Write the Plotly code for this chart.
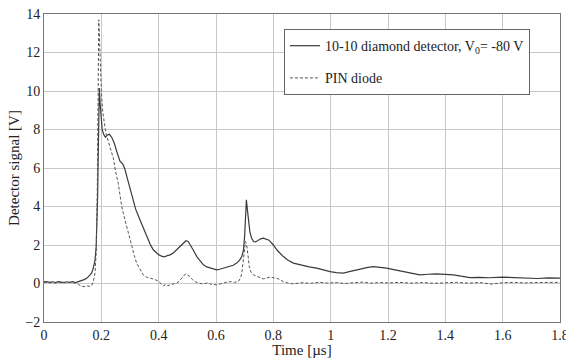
import plotly.graph_objects as go

# Diamond detector (solid)
t_diamond = [0.000, 0.010, 0.020, 0.030, 0.040, 0.050, 0.060, 0.070, 0.080, 0.090,
             0.100, 0.110, 0.120, 0.130, 0.140, 0.150, 0.160, 0.166, 0.172, 0.178,
             0.182, 0.185, 0.187, 0.189, 0.191, 0.193, 0.196, 0.199, 0.203, 0.208,
             0.214, 0.220, 0.228, 0.236, 0.245, 0.255, 0.265, 0.275, 0.282, 0.290,
             0.300, 0.310, 0.320, 0.335, 0.348, 0.358, 0.370, 0.381, 0.392, 0.400,
             0.410, 0.420, 0.430, 0.440, 0.452, 0.463, 0.475, 0.486, 0.495, 0.503,
             0.512, 0.522, 0.533, 0.545, 0.556, 0.568, 0.579, 0.590, 0.602, 0.613,
             0.625, 0.637, 0.649, 0.660, 0.672, 0.682, 0.690, 0.696, 0.700, 0.703,
             0.706, 0.709, 0.713, 0.718, 0.724, 0.731, 0.738, 0.747, 0.756, 0.765,
             0.775, 0.785, 0.800, 0.815, 0.835, 0.850, 0.870, 0.890, 0.904, 0.925,
             0.951, 0.975, 0.998, 1.020, 1.044, 1.065, 1.090, 1.110, 1.130, 1.150,
             1.170, 1.195, 1.220, 1.253, 1.280, 1.311, 1.340, 1.370, 1.400, 1.428,
             1.455, 1.486, 1.520, 1.550, 1.600, 1.640, 1.680, 1.720, 1.760, 1.800]
v_diamond = [0.08, 0.10, 0.06, 0.09, 0.05, 0.10, 0.07, 0.04, 0.09, 0.06,
             0.10, 0.05, 0.10, 0.14, 0.20, 0.28, 0.42, 0.54, 0.80, 1.23,
             1.90, 3.00, 4.50, 6.50, 9.00, 10.15, 9.30, 8.50, 8.00, 7.75,
             7.60, 7.70, 7.75, 7.60, 7.30, 6.80, 6.35, 6.20, 5.95, 5.50,
             4.90, 4.35, 3.85, 3.30, 2.80, 2.44, 2.05, 1.75, 1.60, 1.50,
             1.42, 1.38, 1.45, 1.49, 1.60, 1.75, 1.92, 2.10, 2.22, 2.18,
             1.98, 1.70, 1.40, 1.15, 0.97, 0.86, 0.80, 0.74, 0.71, 0.74,
             0.80, 0.84, 0.88, 0.95, 1.06, 1.20, 1.40, 1.75, 2.50, 3.60,
             4.35, 3.90, 3.30, 2.70, 2.36, 2.18, 2.16, 2.25, 2.32, 2.36,
             2.32, 2.25, 2.00, 1.70, 1.40, 1.22, 1.06, 0.98, 0.92, 0.86,
             0.80, 0.70, 0.62, 0.57, 0.54, 0.62, 0.71, 0.76, 0.84, 0.88,
             0.86, 0.80, 0.72, 0.62, 0.52, 0.45, 0.48, 0.50, 0.47, 0.45,
             0.38, 0.31, 0.32, 0.30, 0.33, 0.30, 0.28, 0.26, 0.29, 0.28]

# PIN diode (dashed)
t_pin = [0.000, 0.010, 0.020, 0.030, 0.040, 0.050, 0.060, 0.070, 0.080, 0.090,
         0.100, 0.110, 0.120, 0.130, 0.140, 0.150, 0.160, 0.166, 0.172, 0.178,
         0.182, 0.184, 0.186, 0.188, 0.190, 0.191, 0.193, 0.196, 0.200, 0.205,
         0.210, 0.216, 0.224, 0.232, 0.242, 0.250, 0.259, 0.265, 0.271, 0.280,
         0.288, 0.297, 0.306, 0.315, 0.323, 0.335, 0.346, 0.358, 0.370, 0.385,
         0.399, 0.408, 0.416, 0.425, 0.432, 0.440, 0.450, 0.463, 0.472, 0.480,
         0.488, 0.495, 0.502, 0.509, 0.518, 0.527, 0.540, 0.556, 0.570, 0.585,
         0.602, 0.615, 0.630, 0.649, 0.665, 0.678, 0.686, 0.690, 0.694, 0.698,
         0.703, 0.707, 0.710, 0.713, 0.716, 0.722, 0.730, 0.742, 0.755, 0.765,
         0.778, 0.788, 0.800, 0.812, 0.825, 0.835, 0.850, 0.870, 0.900, 0.930,
         0.960, 0.990, 1.020, 1.050, 1.080, 1.110, 1.140, 1.170, 1.200, 1.240,
         1.280, 1.320, 1.360, 1.400, 1.440, 1.480, 1.520, 1.560, 1.600, 1.640,
         1.680, 1.720, 1.760, 1.800]
v_pin = [0.05, 0.07, 0.03, 0.06, 0.02, 0.07, 0.04, 0.08, 0.03, 0.06,
         0.04, 0.02, -0.05, -0.15, -0.16, -0.12, -0.15, -0.12, 0.10, 0.54,
         1.60, 2.80, 5.00, 8.50, 12.50, 13.70, 13.00, 11.50, 10.00, 8.90,
         8.30, 7.80, 7.40, 6.95, 6.50, 5.80, 5.20, 4.60, 4.00, 3.45,
         2.96, 2.40, 1.92, 1.45, 1.06, 0.70, 0.45, 0.33, 0.28, 0.22,
         0.12, 0.00, -0.12, -0.05, -0.12, -0.07, -0.02, 0.02, 0.12, 0.28,
         0.42, 0.50, 0.45, 0.36, 0.20, 0.10, 0.02, -0.02, 0.03, -0.05,
         -0.07, 0.00, 0.04, 0.10, 0.06, 0.10, 0.30, 0.54, 1.10, 1.66,
         2.18, 2.00, 1.75, 1.30, 0.88, 0.60, 0.45, 0.36, 0.30, 0.24,
         0.30, 0.33, 0.30, 0.28, 0.18, 0.10, 0.03, -0.02, 0.04, 0.01,
         0.06, 0.02, 0.05, 0.00, 0.04, 0.07, 0.02, 0.05, 0.03, 0.06,
         0.02, 0.05, 0.01, 0.04, 0.06, 0.02, 0.05, -0.03, 0.04, 0.06,
         0.03, 0.05, 0.07, 0.06]

x_ticks = [0, 0.2, 0.4, 0.6, 0.8, 1, 1.2, 1.4, 1.6, 1.8]
y_ticks = [-2, 0, 2, 4, 6, 8, 10, 12, 14]

font_family = "Times New Roman, Liberation Serif, serif"

fig = go.Figure()
fig.add_trace(go.Scatter(
    x=t_diamond, y=v_diamond, mode="lines",
    name="10-10 diamond detector, V<sub>0</sub>= -80 V",
    legendgroup="a",
    line=dict(color="#3a3a3a", width=1.2),
))
fig.add_trace(go.Scatter(
    x=t_pin, y=v_pin, mode="lines",
    name="PIN diode",
    legendgroup="b",
    line=dict(color="#555555", width=1, dash="3px,2px"),
))

axis_common = dict(
    showgrid=True, gridcolor="#c8c8c8", gridwidth=1,
    showline=True, linecolor="#777777", linewidth=1, mirror=True,
    zeroline=False, ticks="", automargin=False,
    tickfont=dict(family=font_family, size=14, color="#222222"),
)

fig.update_layout(
    width=566, height=358,
    margin=dict(l=44, r=6, t=14, b=36),
    paper_bgcolor="white", plot_bgcolor="white",
    font=dict(family=font_family, size=14, color="#222222"),
    xaxis=dict(range=[0, 1.8], tickvals=x_ticks, ticklabeloverflow="allow",
               title=dict(text="Time [µs]", font=dict(family=font_family, size=15), standoff=4),
               **axis_common),
    yaxis=dict(range=[-2, 14], tickvals=y_ticks,
               title=dict(text="Detector signal [V]", font=dict(family=font_family, size=15), standoff=2),
               **axis_common),
    legend=dict(x=0.465, y=0.951, xanchor="left", yanchor="top",
                bgcolor="white", bordercolor="#666666", borderwidth=1,
                font=dict(family=font_family, size=14, color="#222222"),
                tracegroupgap=11, entrywidth=212, entrywidthmode="pixels"),
    showlegend=True,
)

fig.write_html("out.html")
